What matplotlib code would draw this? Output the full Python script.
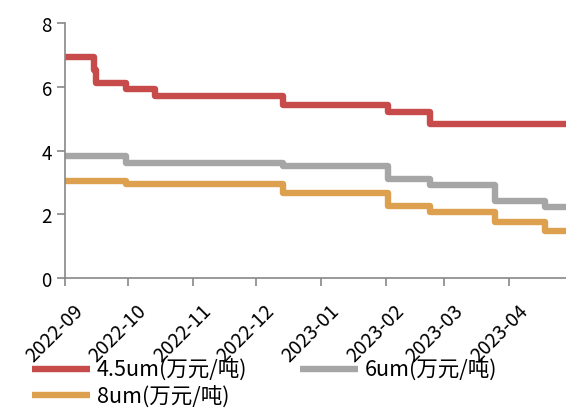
import matplotlib
matplotlib.use("Agg")
import matplotlib.pyplot as plt
import matplotlib.dates as mdates
import matplotlib.transforms as mtransforms
import pandas as pd

plt.rcParams['font.family'] = ['Noto Sans CJK SC', 'DejaVu Sans']

# Price change dates and levels (万元/吨); each level holds until the next change
change_dates = ["2022-09-01", "2022-09-15", "2022-09-16", "2022-09-30", "2022-10-14",
                "2022-12-14", "2023-02-02", "2023-02-22", "2023-03-25", "2023-04-18",
                "2023-04-28"]
foil_45um = [6.93, 6.53, 6.12, 5.93, 5.72, 5.42, 5.22, 4.83, 4.83, 4.83, 4.83]
foil_6um = [3.82, 3.82, 3.82, 3.62, 3.62, 3.53, 3.12, 2.92, 2.42, 2.22, 2.22]
foil_8um = [3.06, 3.06, 3.06, 2.96, 2.96, 2.66, 2.27, 2.07, 1.77, 1.47, 1.47]

series_labels = ["4.5um(万元/吨)", "6um(万元/吨)", "8um(万元/吨)"]
series_colors = ["#C84B4B", "#A6A6A6", "#DCA04E"]
month_ticks = ["2022-09", "2022-10", "2022-11", "2022-12",
               "2023-01", "2023-02", "2023-03", "2023-04"]
y_ticks = [0, 2, 4, 6, 8]

dates = pd.to_datetime(change_dates)

fig = plt.figure(figsize=(5.66, 4.10), dpi=100)
ax = fig.add_axes([0.1148, 0.3188, 0.8852, 0.6227])

lines = []
for vals, lab, col in zip([foil_45um, foil_6um, foil_8um], series_labels, series_colors):
    ln, = ax.plot(dates, vals, drawstyle="steps-post", color=col, lw=4.6,
                  solid_joinstyle="round", solid_capstyle="butt", label=lab)
    lines.append(ln)

ax.set_ylim(0, 8)
ax.set_yticks(y_ticks)
ax.set_xlim(dates[0], dates[-1])
ax.set_xticks(pd.to_datetime(month_ticks))
ax.xaxis.set_major_formatter(mdates.DateFormatter("%Y-%m"))

for side in ["top", "right"]:
    ax.spines[side].set_visible(False)
for side in ["left", "bottom"]:
    ax.spines[side].set_color("#888888")
    ax.spines[side].set_linewidth(1.2)

ax.tick_params(axis="both", colors="#888888", width=1.2, length=6, labelcolor="black",
               labelsize=13.5)
ax.tick_params(axis="x", labelsize=14)
shift = mtransforms.ScaledTranslation(8 / 100, -8 / 100, fig.dpi_scale_trans)
for lbl in ax.get_xticklabels():
    lbl.set_rotation(45)
    lbl.set_ha("right")
    lbl.set_rotation_mode("anchor")
    lbl.set_transform(lbl.get_transform() + shift)

# two-column legend: 4.5um and 8um in the first column, 6um in the second
leg = fig.legend(handles=[lines[0], lines[2], lines[1]],
                 labels=[series_labels[0], series_labels[2], series_labels[1]],
                 ncol=2, frameon=False,
                 loc="upper left", bbox_to_anchor=(0.057, 0.122),
                 fontsize=15.5, handlelength=2.7, handletextpad=0.3,
                 columnspacing=2.45, labelspacing=0.2, borderpad=0, borderaxespad=0)

fig.savefig("out.png", dpi=100)
